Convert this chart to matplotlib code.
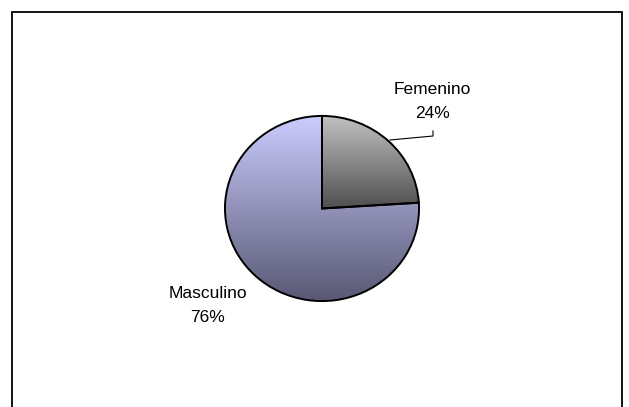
import numpy as np
import matplotlib
matplotlib.use('Agg')
import matplotlib.pyplot as plt
from matplotlib.colors import LinearSegmentedColormap
from matplotlib.patches import Rectangle
from matplotlib.lines import Line2D

plt.rcParams['font.family'] = ['Liberation Sans', 'DejaVu Sans']

# data
labels = ['Femenino', 'Masculino']
values = [24, 76]
top_colors = ['#c2c2c2', '#ccccff']
bottom_colors = ['#505050', '#585874']

W, H = 629, 407
fig = plt.figure(figsize=(W / 100, H / 100), dpi=100)

# outer frame (Excel chart area border, bottom edge cut off)
fig.patches.append(Rectangle((12 / W, -0.05), 610 / W, (395 / H) + 0.05,
                             transform=fig.transFigure, fill=False,
                             edgecolor='black', linewidth=1.3))

# pie axes sized to the (slightly elliptical) pie
px0, px1, py0, py1 = 224, 420, 115, 302
ax = fig.add_axes([px0 / W, 1 - py1 / H, (px1 - px0) / W, (py1 - py0) / H])
ax.axis('off')

wedges, _ = ax.pie(values, startangle=90, counterclock=False, radius=1,
                   wedgeprops=dict(edgecolor='black', linewidth=1.4, facecolor='none'),
                   frame=False)
ax.set_aspect('auto')

grad = np.linspace(0, 1, 256).reshape(-1, 1)
for w, c0, c1 in zip(wedges, top_colors, bottom_colors):
    ext = w.get_path().get_extents(w.get_patch_transform())
    cmap = LinearSegmentedColormap.from_list('g', [c0, c1])
    im = ax.imshow(grad, cmap=cmap, aspect='auto', interpolation='bilinear',
                   extent=[ext.x0, ext.x1, ext.y0, ext.y1], origin='upper', zorder=0.5)
    im.set_clip_path(w)
    w.set_zorder(1)
ax.set_xlim(-1.01, 1.01)
ax.set_ylim(-1.01, 1.01)

# labels (figure pixel positions)
def fpos(x, y):
    return x / W, 1 - y / H

lab_pos = [(432, 90, 114), (208, 293, 318)]
for lab, v, (x, y1, y2) in zip(labels, values, lab_pos):
    fig.text(*fpos(x, y1), lab, ha='center', va='center', fontsize=12.5)
    fig.text(*fpos(x, y2), f'{v}%', ha='center', va='center', fontsize=12.5)

# leader line for Femenino
xs = [390, 433, 433]
ys = [140, 136, 131]
fig.lines.append(Line2D([x / W for x in xs], [1 - y / H for y in ys],
                        transform=fig.transFigure, color='black', linewidth=0.8))

fig.savefig('out.png', dpi=100)
